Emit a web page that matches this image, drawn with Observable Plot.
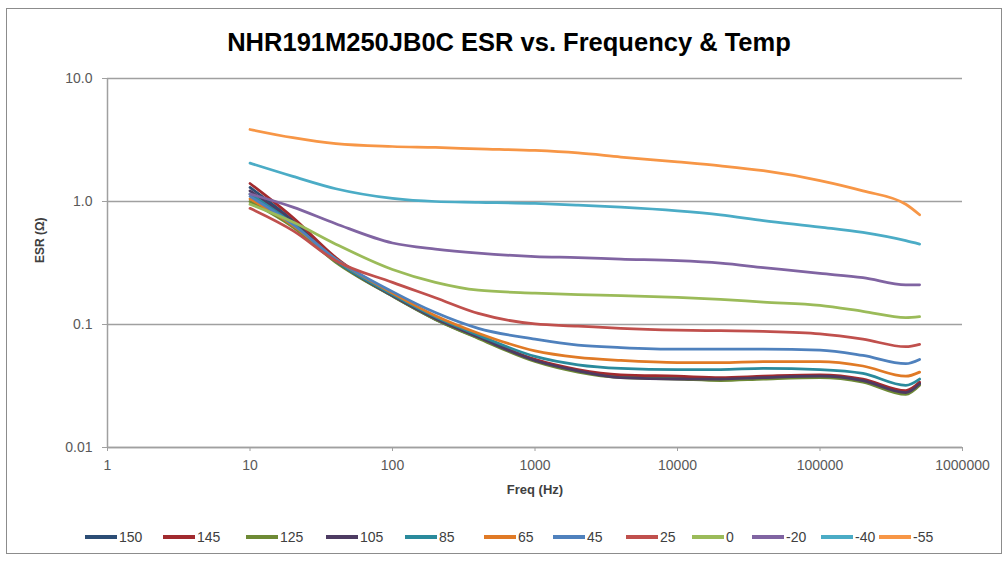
<!DOCTYPE html>
<html>
<head>
<meta charset="utf-8">
<script src="https://cdn.jsdelivr.net/npm/d3@7"></script>
<script src="https://cdn.jsdelivr.net/npm/@observablehq/plot@0.6"></script>
<style>
  html, body { margin: 0; padding: 0; background: #fff; }
  #wrap { position: relative; width: 1008px; height: 561px; overflow: hidden; font-family: "Liberation Sans", Arial, sans-serif; }
  #frame { position: absolute; left: 6px; top: 8px; width: 996px; height: 546px; border: 1px solid #8c8c8c; box-sizing: border-box; pointer-events: none; }
  #title { position: absolute; left: 5px; top: 0; width: 1008px; height: 60px; text-align: center; font-weight: bold; font-size: 25.5px; line-height: 26px; padding-top: 29px; box-sizing: border-box; color: #000; }
  #chart { position: absolute; left: 0; top: 60px; }
  #legend { position: absolute; left: 0; top: 527px; width: 1008px; height: 20px; }
  .item { position: absolute; top: 0; height: 20px; display: flex; align-items: center; font-size: 14px; color: #404040; }
  .sw { width: 32px; height: 4px; margin-right: 2px; }
</style>
</head>
<body>
<div id="wrap">
  <div id="title">NHR191M250JB0C ESR vs. Frequency &amp; Temp</div>
  <div id="chart"></div>
  <div id="legend"></div>
  <div id="frame"></div>
</div>
<script>
// ---- data ----
const freqHz = [10, 20, 40, 100, 200, 400, 1000, 2000, 4000, 10000, 20000, 40000, 100000, 200000, 400000, 500000];

const esr150 = [1.30, 0.70, 0.33, 0.170, 0.110, 0.078, 0.051, 0.042, 0.038, 0.037, 0.036, 0.037, 0.038, 0.035, 0.028, 0.033];
const esr145 = [1.40, 0.74, 0.35, 0.175, 0.112, 0.080, 0.052, 0.043, 0.039, 0.038, 0.037, 0.038, 0.039, 0.036, 0.029, 0.034];
const esr125 = [1.00, 0.62, 0.32, 0.170, 0.110, 0.077, 0.050, 0.041, 0.037, 0.036, 0.035, 0.036, 0.037, 0.034, 0.027, 0.032];
const esr105 = [1.22, 0.68, 0.33, 0.172, 0.112, 0.079, 0.051, 0.042, 0.037, 0.036, 0.036, 0.037, 0.038, 0.035, 0.028, 0.033];
const esr85  = [1.15, 0.66, 0.33, 0.175, 0.115, 0.082, 0.055, 0.047, 0.044, 0.043, 0.043, 0.044, 0.043, 0.040, 0.032, 0.036];
const esr65  = [1.05, 0.64, 0.34, 0.180, 0.118, 0.085, 0.061, 0.054, 0.051, 0.049, 0.049, 0.050, 0.050, 0.046, 0.038, 0.041];
const esr45  = [1.10, 0.65, 0.34, 0.185, 0.125, 0.093, 0.076, 0.068, 0.065, 0.063, 0.063, 0.063, 0.062, 0.056, 0.048, 0.052];
const esr25  = [0.88, 0.58, 0.33, 0.220, 0.165, 0.123, 0.101, 0.097, 0.093, 0.090, 0.089, 0.088, 0.084, 0.076, 0.066, 0.069];
const esr0   = [0.95, 0.68, 0.45, 0.280, 0.220, 0.190, 0.180, 0.175, 0.172, 0.166, 0.160, 0.152, 0.143, 0.128, 0.114, 0.116];
const esrM20 = [1.15, 0.90, 0.66, 0.460, 0.410, 0.380, 0.357, 0.350, 0.340, 0.330, 0.315, 0.290, 0.260, 0.240, 0.210, 0.210];
const esrM40 = [2.05, 1.60, 1.27, 1.060, 1.000, 0.985, 0.965, 0.935, 0.900, 0.840, 0.780, 0.700, 0.620, 0.560, 0.480, 0.450];
const esrM55 = [3.85, 3.30, 2.95, 2.800, 2.750, 2.680, 2.600, 2.480, 2.300, 2.100, 1.950, 1.780, 1.480, 1.220, 0.950, 0.780];

const seriesNames = ["150", "145", "125", "105", "85", "65", "45", "25", "0", "-20", "-40", "-55"];
const seriesValues = [esr150, esr145, esr125, esr105, esr85, esr65, esr45, esr25, esr0, esrM20, esrM40, esrM55];
const seriesColors = ["#2C4D75", "#A12A2E", "#6E8A35", "#4D3B62", "#2A8A9C", "#E07A26",
                      "#4F81BD", "#C0504D", "#9BBB59", "#8064A2", "#4BACC6", "#F79646"];

const xTicks = [1, 10, 100, 1000, 10000, 100000, 1000000];
const yTicks = [0.01, 0.1, 1, 10];
const yTickLabels = ["0.01", "0.1", "1.0", "10.0"];

// ---- tidy table ----
const rows = [];
seriesNames.forEach((name, i) => {
  freqHz.forEach((f, j) => rows.push({series: name, freq: f, esr: seriesValues[i][j]}));
});

const gray = "#a0a0a0";
const chart = Plot.plot({
  width: 1008,
  height: 445,
  marginLeft: 107,
  marginRight: 46,
  marginTop: 18,
  marginBottom: 58,
  style: {fontFamily: "'Liberation Sans', Arial, sans-serif", background: "transparent"},
  x: {type: "log", domain: [1, 1e6]},
  y: {type: "log", domain: [0.01, 10]},
  color: {domain: seriesNames, range: seriesColors},
  marks: [
    Plot.gridY(yTicks, {stroke: gray, strokeOpacity: 1, strokeWidth: 1.5}),
    Plot.ruleX([1], {stroke: gray, strokeWidth: 1.5}),
    Plot.ruleY([0.01], {stroke: gray, strokeWidth: 1.5}),
    Plot.axisY(yTicks, {tickSize: 5, tickPadding: 10, stroke: gray, fontSize: 14, fill: "#595959",
      tickFormat: d => yTickLabels[yTicks.findIndex(t => Math.abs(t - d) < 1e-9)], label: null}),
    Plot.axisX(xTicks, {tickSize: 4, tickPadding: 9, stroke: gray, fontSize: 14, fill: "#595959",
      tickFormat: d => String(d), label: null}),
    Plot.text(["Freq (Hz)"], {frameAnchor: "bottom", dy: 46, fontSize: 13, fontWeight: "bold", fill: "#404040"}),
    Plot.text(["ESR (Ω)"], {frameAnchor: "left", dx: -67, rotate: -90, fontSize: 12, fontWeight: "bold", fill: "#404040"}),
    Plot.line(rows, {x: "freq", y: "esr", z: "series", stroke: "series", strokeWidth: 2.75, curve: "monotone-x"})
  ]
});
document.getElementById("chart").appendChild(chart);

// ---- legend ----
const legendX = [85, 163, 246, 326, 405, 484, 553, 626, 692, 752, 821, 879];
const leg = document.getElementById("legend");
seriesNames.forEach((name, i) => {
  const it = document.createElement("div");
  it.className = "item";
  it.style.left = legendX[i] + "px";
  const sw = document.createElement("div");
  sw.className = "sw";
  sw.style.background = seriesColors[i];
  const tx = document.createElement("span");
  tx.textContent = name;
  it.appendChild(sw); it.appendChild(tx);
  leg.appendChild(it);
});
</script>
</body>
</html>
